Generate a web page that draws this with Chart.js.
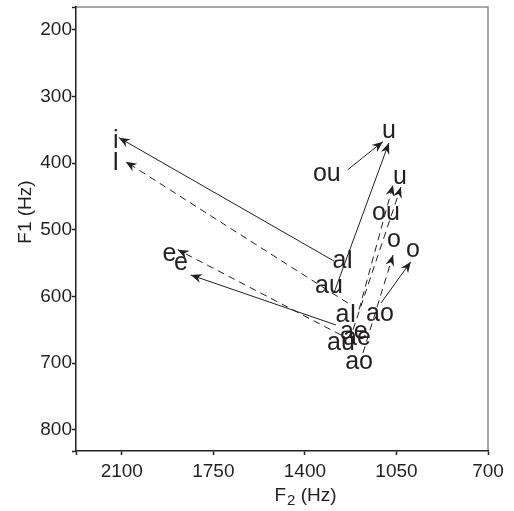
<!DOCTYPE html>
<html lang="en">
<head>
  <meta charset="UTF-8" />
  <title>F1 / F2 vowel trajectories</title>
  <script src="https://cdn.jsdelivr.net/npm/chart.js"></script>
  <style>
    body { margin: 0; background: #fff; }
    .wrap { width: 514px; height: 511px; position: relative; }
  </style>
</head>
<body>
  <div class="wrap"><canvas id="chart"></canvas></div>

  <script>
    // axis ticks
    const xTicks = [2100, 1750, 1400, 1050, 700];
    const yTicks = [200, 300, 400, 500, 600, 700, 800];

    // arrows: tail -> tip (F2, F1 in Hz), dashed or solid
    const tailF2 = [1289, 1289, 1236, 1281, 1109, 1236, 1262, 1178, 1193, 1216];
    const tailF1 = [547, 595, 410, 643, 610, 610, 658, 685, 620, 650];
    const tipF2  = [2111, 1079, 1102, 1836, 995, 2085, 1886, 1063, 1063, 1033];
    const tipF1  = [362, 370, 368, 568, 548, 398, 530, 538, 433, 436];
    const dashed = [false, false, false, false, false, true, true, true, true, true];

    // vowel labels
    const labelText = ['i', 'I', 'u', 'u', 'ou', 'ou', 'o', 'o', 'e', 'e',
                       'aI', 'au', 'aI', 'ao', 'ae', 'ae', 'au', 'ao'];
    const labelF2 = [2123, 2123, 1079, 1037, 1316, 1090, 1060, 987, 1918, 1874,
                     1255, 1308, 1243, 1113, 1213, 1201, 1262, 1193];
    const labelF1 = [367, 400, 352, 421, 416, 475, 515, 530, 537, 550,
                     547, 584, 628, 626, 653, 662, 670, 698];

    const INK = '#231f20';
    const FONT = "'Liberation Sans', Arial, sans-serif";

    const datasets = tailF2.map((_, i) => ({
      data: [{ x: tailF2[i], y: tailF1[i] }, { x: tipF2[i], y: tipF1[i] }],
      showLine: true,
      borderColor: INK,
      borderWidth: 1,
      borderDash: dashed[i] ? [7, 5] : [],
      pointRadius: 0
    }));

    const extras = {
      id: 'extras',
      beforeDraw(chart) {
        const { ctx, chartArea: a } = chart;
        ctx.save();
        ctx.strokeStyle = '#8a8a8a';
        ctx.lineWidth = 1.5;
        ctx.beginPath();
        ctx.moveTo(a.left, a.top);
        ctx.lineTo(a.right, a.top);
        ctx.lineTo(a.right, a.bottom);
        ctx.stroke();
        ctx.restore();
      },
      afterDatasetsDraw(chart) {
        const { ctx } = chart;
        const xs = chart.scales.x, ys = chart.scales.y;
        ctx.save();
        ctx.fillStyle = INK;
        // arrow heads
        chart.data.datasets.forEach((ds, i) => {
          const pts = chart.getDatasetMeta(i).data;
          const p0 = pts[0], p1 = pts[1];
          const ang = Math.atan2(p1.y - p0.y, p1.x - p0.x);
          const len = 11, half = 4.5, notch = 7.5;
          ctx.save();
          ctx.translate(p1.x, p1.y);
          ctx.rotate(ang);
          ctx.beginPath();
          ctx.moveTo(0, 0);
          ctx.lineTo(-len, -half);
          ctx.lineTo(-notch, 0);
          ctx.lineTo(-len, half);
          ctx.closePath();
          ctx.fill();
          ctx.restore();
        });
        // vowel labels
        ctx.font = '25px ' + FONT;
        ctx.textAlign = 'center';
        ctx.textBaseline = 'middle';
        labelText.forEach((t, i) => {
          ctx.fillText(t, xs.getPixelForValue(labelF2[i]), ys.getPixelForValue(labelF1[i]));
        });
        ctx.restore();
      },
      afterDraw(chart) {
        const { ctx } = chart;
        ctx.save();
        ctx.fillStyle = INK;
        ctx.textBaseline = 'alphabetic';
        // x title: F2 (Hz) with subscript
        const big = '19px ' + FONT, small = '15px ' + FONT;
        ctx.font = big;
        const wF = ctx.measureText('F').width;
        const wRest = ctx.measureText(' (Hz)').width;
        ctx.font = small;
        const w2 = ctx.measureText('2').width;
        let x = 305 - (wF + w2 + wRest) / 2;
        const y = 501;
        ctx.font = big; ctx.textAlign = 'left';
        ctx.fillText('F', x, y); x += wF;
        ctx.font = small;
        ctx.fillText('2', x + 1, y + 4); x += w2 + 1;
        ctx.font = big;
        ctx.fillText(' (Hz)', x, y);
        // y title
        ctx.translate(31, 212);
        ctx.rotate(-Math.PI / 2);
        ctx.textAlign = 'center';
        ctx.fillText('F1 (Hz)', 0, 0);
        ctx.restore();
      }
    };

    new Chart(document.getElementById('chart'), {
      type: 'scatter',
      data: { datasets },
      options: {
        responsive: true,
        maintainAspectRatio: false,
        animation: false,
        layout: { padding: { left: 0, right: 26, top: 7, bottom: 0 } },
        plugins: { legend: { display: false }, tooltip: { enabled: false } },
        scales: {
          x: {
            type: 'linear',
            reverse: true,
            min: 700,
            max: 2275,
            afterBuildTicks: s => { s.ticks = [2275].concat(xTicks).map(v => ({ value: v })); },
            afterFit: s => { s.height = 60; s.paddingLeft = 0; s.paddingRight = 0; },
            ticks: {
              color: INK,
              font: { family: FONT, size: 19 },
              padding: 5,
              maxRotation: 0,
              autoSkip: false,
              callback: v => xTicks.includes(v) ? v : ''
            },
            grid: { drawOnChartArea: false, tickLength: 4, color: INK, tickWidth: 1.5 },
            border: { display: true, color: INK, width: 1.5 }
          },
          y: {
            type: 'linear',
            reverse: true,
            min: 166,
            max: 832,
            afterBuildTicks: s => { s.ticks = [166].concat(yTicks, [832]).map(v => ({ value: v })); },
            afterFit: s => { s.width = 76; s.paddingTop = 0; s.paddingBottom = 0; },
            ticks: {
              color: INK,
              font: { family: FONT, size: 19 },
              padding: 0,
              autoSkip: false,
              callback: v => yTicks.includes(v) ? v : ''
            },
            grid: { drawOnChartArea: false, tickLength: 4, color: INK, tickWidth: 1.5 },
            border: { display: true, color: INK, width: 1.5 }
          }
        }
      },
      plugins: [extras]
    });
  </script>
</body>
</html>
